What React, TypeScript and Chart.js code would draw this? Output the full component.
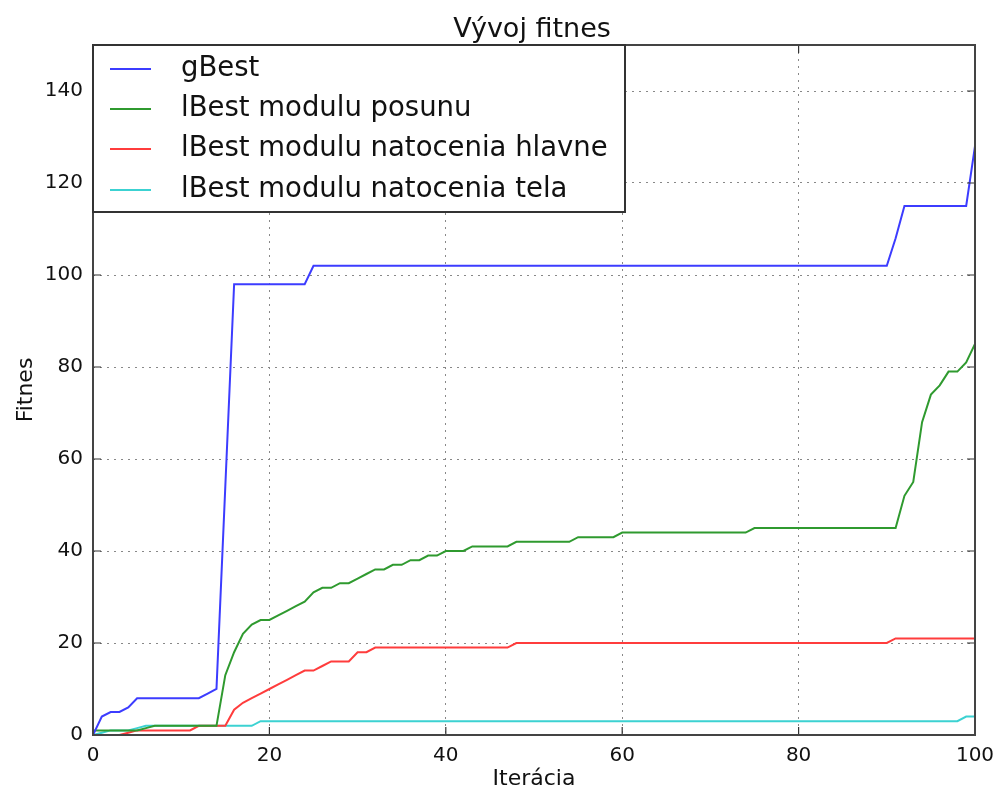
import React, { useEffect, useRef } from "react";
import Chart from "chart.js/auto";

const iterations = [
  0, 1, 2, 3, 4, 5, 6, 7, 8, 9, 10, 11, 12, 13, 14, 15, 16, 17, 18, 19, 20,
  21, 22, 23, 24, 25, 26, 27, 28, 29, 30, 31, 32, 33, 34, 35, 36, 37, 38, 39, 40,
  41, 42, 43, 44, 45, 46, 47, 48, 49, 50, 51, 52, 53, 54, 55, 56, 57, 58, 59, 60,
  61, 62, 63, 64, 65, 66, 67, 68, 69, 70, 71, 72, 73, 74, 75, 76, 77, 78, 79, 80,
  81, 82, 83, 84, 85, 86, 87, 88, 89, 90, 91, 92, 93, 94, 95, 96, 97, 98, 99, 100,
];

const gBest = [
  0, 4, 5, 5, 6, 8, 8, 8, 8, 8,
  8, 8, 8, 9, 10, 54, 98, 98, 98, 98,
  98, 98, 98, 98, 98, 102, 102, 102, 102, 102,
  102, 102, 102, 102, 102, 102, 102, 102, 102, 102,
  102, 102, 102, 102, 102, 102, 102, 102, 102, 102,
  102, 102, 102, 102, 102, 102, 102, 102, 102, 102,
  102, 102, 102, 102, 102, 102, 102, 102, 102, 102,
  102, 102, 102, 102, 102, 102, 102, 102, 102, 102,
  102, 102, 102, 102, 102, 102, 102, 102, 102, 102,
  102, 108, 115, 115, 115, 115, 115, 115, 115, 115,
  128,
];

const lBestPosun = [
  1, 1, 1, 1, 1, 1, 1.5, 2, 2, 2,
  2, 2, 2, 2, 2, 13, 18, 22, 24, 25,
  25, 26, 27, 28, 29, 31, 32, 32, 33, 33,
  34, 35, 36, 36, 37, 37, 38, 38, 39, 39,
  40, 40, 40, 41, 41, 41, 41, 41, 42, 42,
  42, 42, 42, 42, 42, 43, 43, 43, 43, 43,
  44, 44, 44, 44, 44, 44, 44, 44, 44, 44,
  44, 44, 44, 44, 44, 45, 45, 45, 45, 45,
  45, 45, 45, 45, 45, 45, 45, 45, 45, 45,
  45, 45, 52, 55, 68, 74, 76, 79, 79, 81,
  85,
];

const lBestHlavne = [
  0, 0, 0, 0, 0.5, 1, 1, 1, 1, 1,
  1, 1, 2, 2, 2, 2, 5.5, 7, 8, 9,
  10, 11, 12, 13, 14, 14, 15, 16, 16, 16,
  18, 18, 19, 19, 19, 19, 19, 19, 19, 19,
  19, 19, 19, 19, 19, 19, 19, 19, 20, 20,
  20, 20, 20, 20, 20, 20, 20, 20, 20, 20,
  20, 20, 20, 20, 20, 20, 20, 20, 20, 20,
  20, 20, 20, 20, 20, 20, 20, 20, 20, 20,
  20, 20, 20, 20, 20, 20, 20, 20, 20, 20,
  20, 21, 21, 21, 21, 21, 21, 21, 21, 21,
  21,
];

const lBestTelo = [
  0, 0.5, 1, 1, 1, 1.5, 2, 2, 2, 2,
  2, 2, 2, 2, 2, 2, 2, 2, 2, 3,
  3, 3, 3, 3, 3, 3, 3, 3, 3, 3,
  3, 3, 3, 3, 3, 3, 3, 3, 3, 3,
  3, 3, 3, 3, 3, 3, 3, 3, 3, 3,
  3, 3, 3, 3, 3, 3, 3, 3, 3, 3,
  3, 3, 3, 3, 3, 3, 3, 3, 3, 3,
  3, 3, 3, 3, 3, 3, 3, 3, 3, 3,
  3, 3, 3, 3, 3, 3, 3, 3, 3, 3,
  3, 3, 3, 3, 3, 3, 3, 3, 3, 4,
  4,
];

const seriesLabels = [
  "gBest",
  "lBest modulu posunu",
  "lBest modulu natocenia hlavne",
  "lBest modulu natocenia tela",
];
const seriesColors = ["#3c3cff", "#2f9a2f", "#ff3c3c", "#3cd2d2"];
const chartTitle = "Vývoj fitnes";
const xTitle = "Iterácia";
const yTitle = "Fitnes";
const xTickValues = [0, 20, 40, 60, 80, 100];
const yTickValues = [0, 20, 40, 60, 80, 100, 120, 140];

const FONT = "'DejaVu Sans', sans-serif";

const framePlugin = {
  id: "framePlugin",
  afterDatasetsDraw(chart: any) {
    const { ctx, chartArea } = chart;
    const { left, right, top, bottom } = chartArea;
    const xs = chart.scales.x;
    const ys = chart.scales.y;
    ctx.save();
    ctx.strokeStyle = "#333";
    ctx.lineWidth = 1.2;
    ctx.beginPath();
    for (const v of xTickValues) {
      const px = xs.getPixelForValue(v);
      ctx.moveTo(px, bottom);
      ctx.lineTo(px, bottom - 8);
      ctx.moveTo(px, top);
      ctx.lineTo(px, top + 8);
    }
    for (const v of yTickValues) {
      const py = ys.getPixelForValue(v);
      ctx.moveTo(left, py);
      ctx.lineTo(left + 8, py);
      ctx.moveTo(right, py);
      ctx.lineTo(right - 8, py);
    }
    ctx.stroke();
    ctx.strokeStyle = "#444";
    ctx.lineWidth = 2;
    ctx.strokeRect(left, top, right - left, bottom - top);

    // legend
    const lx = left, ly = top, lw = 532, lh = 167;
    ctx.fillStyle = "#fff";
    ctx.fillRect(lx, ly, lw, lh);
    ctx.strokeStyle = "#333";
    ctx.lineWidth = 2;
    ctx.strokeRect(lx, ly, lw, lh);
    const rowY = [69, 109, 149, 190];
    ctx.font = `27.5px ${FONT}`;
    ctx.textBaseline = "middle";
    ctx.textAlign = "left";
    seriesLabels.forEach((lab, i) => {
      const y = rowY[i];
      ctx.strokeStyle = seriesColors[i];
      ctx.lineWidth = 2;
      ctx.beginPath();
      ctx.moveTo(lx + 17, y);
      ctx.lineTo(lx + 58, y);
      ctx.stroke();
      ctx.fillStyle = "#111";
      ctx.fillText(lab, lx + 88, y);
    });

    // title
    ctx.font = `27px ${FONT}`;
    ctx.textAlign = "center";
    ctx.textBaseline = "middle";
    ctx.fillStyle = "#111";
    ctx.fillText(chartTitle, (left + right) / 2 - 2, 30);
    ctx.restore();
  },
};

export default function App() {
  const ref = useRef<HTMLCanvasElement | null>(null);
  useEffect(() => {
    document.body.style.margin = "0";
    const canvas = ref.current!;
    const mk = (arr: number[]) => iterations.map((x, i) => ({ x, y: arr[i] }));
    const all = [gBest, lBestPosun, lBestHlavne, lBestTelo];
    const chart = new Chart(canvas, {
      type: "line",
      data: {
        datasets: all.map((arr, i) => ({
          label: seriesLabels[i],
          data: mk(arr),
          borderColor: seriesColors[i],
          backgroundColor: seriesColors[i],
          borderWidth: 2,
          pointRadius: 0,
          tension: 0,
          fill: false,
        })),
      },
      options: {
        responsive: false,
        animation: false,
        devicePixelRatio: 1,
        layout: { padding: { top: 45, right: 23, left: 0, bottom: 0 } },
        plugins: {
          legend: { display: false },
          title: { display: false },
          tooltip: { enabled: false },
        },
        scales: {
          x: {
            type: "linear",
            min: 0,
            max: 100,
            ticks: {
              stepSize: 20,
              font: { size: 20, family: FONT },
              color: "#111",
              padding: 9,
              maxRotation: 0,
            },
            afterBuildTicks: (s: any) => {
              s.ticks = xTickValues.map((v) => ({ value: v }));
            },
            grid: { color: "#888", lineWidth: 1, drawTicks: false },
            border: { display: false, dash: [2, 5] },
            title: {
              display: true,
              text: xTitle,
              font: { size: 22, family: FONT },
              color: "#111",
              padding: { top: 0, bottom: 1 },
            },
            afterFit: (s: any) => {
              s.height = 58;
              s.paddingLeft = 0;
              s.paddingRight = 0;
            },
          },
          y: {
            min: 0,
            max: 150,
            ticks: {
              stepSize: 20,
              font: { size: 20, family: FONT },
              color: "#111",
              padding: 10,
            },
            afterBuildTicks: (s: any) => {
              s.ticks = yTickValues.map((v) => ({ value: v }));
            },
            grid: { color: "#888", lineWidth: 1, drawTicks: false },
            border: { display: false, dash: [2, 5] },
            title: {
              display: true,
              text: yTitle,
              font: { size: 22, family: FONT },
              color: "#111",
              padding: { top: 13, bottom: 0 },
            },
            afterFit: (s: any) => {
              s.width = 93;
              s.paddingTop = 0;
              s.paddingBottom = 0;
            },
          },
        },
      },
      plugins: [framePlugin],
    });
    return () => chart.destroy();
  }, []);
  return (
    <div style={{ position: "absolute", left: 0, top: 0, width: 998, height: 793, background: "#fff" }}>
      <canvas ref={ref} width={998} height={793} style={{ width: 998, height: 793, display: "block" }} />
    </div>
  );
}
